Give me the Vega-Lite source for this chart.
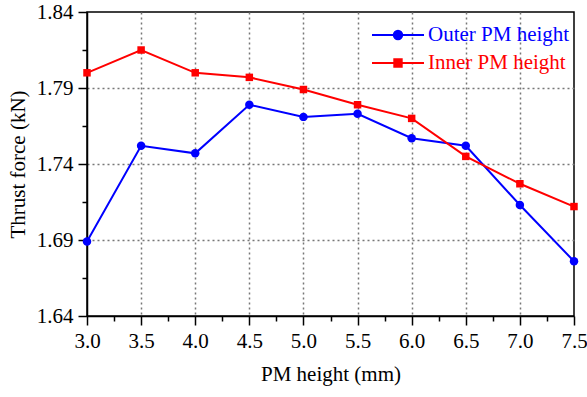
{
  "$schema": "https://vega.github.io/schema/vega-lite/v6.json",
  "width": 487,
  "height": 304,
  "autosize": {"type": "none"},
  "padding": {"left": 87, "top": 12, "right": 13, "bottom": 81},
  "config": {
    "view": {"stroke": "black", "strokeWidth": 1.5},
    "font": "Liberation Serif, serif"
  },
  "data": {
    "values": [
      {"h": 3.0, "series": "Outer PM height", "thrust": 1.689},
      {"h": 3.5, "series": "Outer PM height", "thrust": 1.752},
      {"h": 4.0, "series": "Outer PM height", "thrust": 1.747},
      {"h": 4.5, "series": "Outer PM height", "thrust": 1.779},
      {"h": 5.0, "series": "Outer PM height", "thrust": 1.771},
      {"h": 5.5, "series": "Outer PM height", "thrust": 1.773},
      {"h": 6.0, "series": "Outer PM height", "thrust": 1.757},
      {"h": 6.5, "series": "Outer PM height", "thrust": 1.752},
      {"h": 7.0, "series": "Outer PM height", "thrust": 1.713},
      {"h": 7.5, "series": "Outer PM height", "thrust": 1.676},
      {"h": 3.0, "series": "Inner PM height", "thrust": 1.800},
      {"h": 3.5, "series": "Inner PM height", "thrust": 1.815},
      {"h": 4.0, "series": "Inner PM height", "thrust": 1.800},
      {"h": 4.5, "series": "Inner PM height", "thrust": 1.797},
      {"h": 5.0, "series": "Inner PM height", "thrust": 1.789},
      {"h": 5.5, "series": "Inner PM height", "thrust": 1.779},
      {"h": 6.0, "series": "Inner PM height", "thrust": 1.770},
      {"h": 6.5, "series": "Inner PM height", "thrust": 1.745},
      {"h": 7.0, "series": "Inner PM height", "thrust": 1.727},
      {"h": 7.5, "series": "Inner PM height", "thrust": 1.712}
    ]
  },
  "encoding": {
    "x": {
      "field": "h",
      "type": "quantitative",
      "scale": {"domain": [3, 7.5], "nice": false, "zero": false},
      "axis": {
        "title": "PM height (mm)",
        "titleFont": "Liberation Serif, serif",
        "titleFontSize": 21,
        "titleFontWeight": "normal",
        "titleColor": "black",
        "titlePadding": 12,
        "values": [3, 3.25, 3.5, 3.75, 4, 4.25, 4.5, 4.75, 5, 5.25, 5.5, 5.75, 6, 6.25, 6.5, 6.75, 7, 7.25, 7.5],
        "labelExpr": "round(datum.value*100) % 50 === 0 ? format(datum.value, '.1f') : ''",
        "labelFont": "Liberation Serif, serif",
        "labelFontSize": 21,
        "labelColor": "black",
        "labelPadding": 5,
        "labelFlush": false,
        "labelOverlap": false,
        "domainColor": "black",
        "domainWidth": 1.5,
        "tickColor": "black",
        "tickWidth": 1.5,
        "tickSize": {"condition": {"test": "round(datum.value*100) % 50 === 0", "value": 9}, "value": 5},
        "grid": true,
        "gridColor": "#777777",
        "gridDash": [2, 3],
        "gridWidth": 1.5,
        "gridOpacity": {"condition": {"test": "round(datum.value*100) % 50 === 0 && datum.value > 3.01 && datum.value < 7.49", "value": 1}, "value": 0}
      }
    },
    "y": {
      "field": "thrust",
      "type": "quantitative",
      "scale": {"domain": [1.64, 1.84], "nice": false, "zero": false},
      "axis": {
        "title": "Thrust force (kN)",
        "titleFont": "Liberation Serif, serif",
        "titleFontSize": 21,
        "titleFontWeight": "normal",
        "titleColor": "black",
        "titlePadding": 8,
        "values": [1.64, 1.665, 1.69, 1.715, 1.74, 1.765, 1.79, 1.815, 1.84],
        "labelExpr": "abs(round(datum.value*1000) % 50) === 40 ? format(datum.value, '.2f') : ''",
        "labelFont": "Liberation Serif, serif",
        "labelFontSize": 21,
        "labelColor": "black",
        "labelPadding": 5,
        "labelFlush": false,
        "labelOverlap": false,
        "domainColor": "black",
        "domainWidth": 1.5,
        "tickColor": "black",
        "tickWidth": 1.5,
        "tickSize": {"condition": {"test": "abs(round(datum.value*1000) % 50) === 40", "value": 9}, "value": 5},
        "grid": true,
        "gridColor": "#777777",
        "gridDash": [2, 3],
        "gridWidth": 1.5,
        "gridOpacity": {"condition": {"test": "abs(round(datum.value*1000) % 50) === 40 && datum.value > 1.645 && datum.value < 1.835", "value": 1}, "value": 0}
      }
    },
    "color": {
      "field": "series",
      "type": "nominal",
      "scale": {"domain": ["Outer PM height", "Inner PM height"], "range": ["#0000FF", "#FF0000"]},
      "legend": {
        "orient": "none",
        "legendX": 300,
        "legendY": 12,
        "title": null,
        "padding": 0,
        "labelFont": "Liberation Serif, serif",
        "labelFontSize": 21,
        "labelOffset": 19,
        "rowPadding": 7,
        "symbolSize": 400,
        "encode": {
          "symbols": {
            "update": {
              "shape": {"signal": "datum.value === 'Outer PM height' ? 'M-2.6,0L2.6,0M0.42,0A0.42,0.42,0,1,1,-0.42,0A0.42,0.42,0,1,1,0.42,0Z' : 'M-2.6,0L2.6,0M-0.37,-0.37L0.37,-0.37L0.37,0.37L-0.37,0.37Z'"},
              "fill": {"scale": "color", "field": "value"},
              "stroke": {"scale": "color", "field": "value"},
              "strokeWidth": {"value": 2},
              "opacity": {"value": 1},
              "fillOpacity": {"value": 1}
            }
          },
          "labels": {
            "update": {
              "fill": {"scale": "color", "field": "value"}
            }
          }
        }
      }
    }
  },
  "layer": [
    {"mark": {"type": "line", "strokeWidth": 2}},
    {
      "transform": [{"filter": "datum.series === 'Outer PM height'"}],
      "mark": {"type": "point", "shape": "circle", "size": 72, "filled": true, "opacity": 1}
    },
    {
      "transform": [{"filter": "datum.series === 'Inner PM height'"}],
      "mark": {"type": "point", "shape": "square", "size": 56, "filled": true, "opacity": 1}
    }
  ]
}
